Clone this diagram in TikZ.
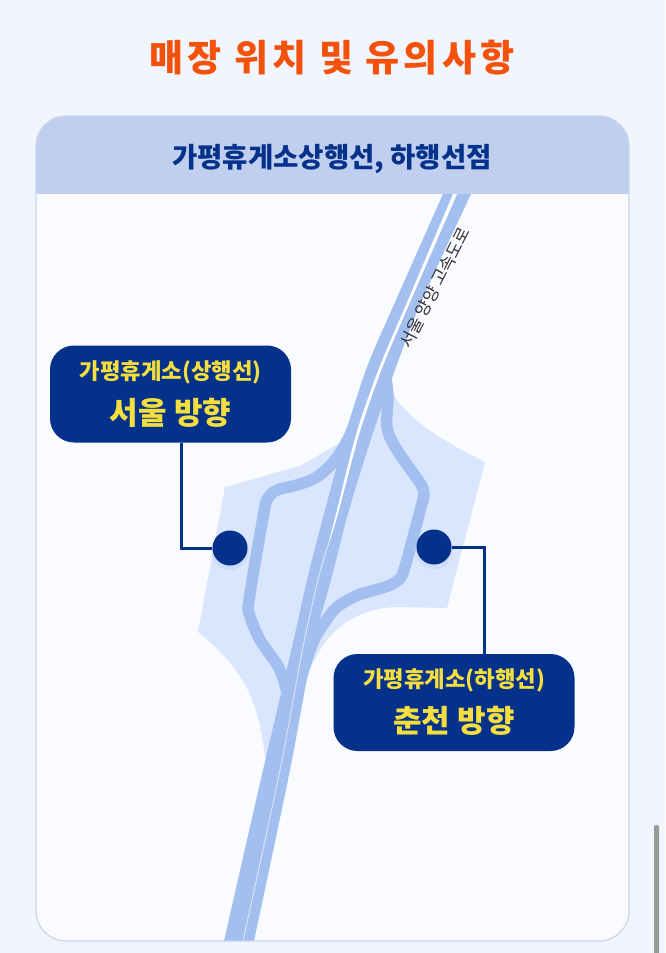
\documentclass[tikz,border=0pt]{standalone}
\usepackage{fontspec}
\setmainfont{Noto Sans CJK KR}
\usepackage{tikz}
\definecolor{pagebg}{HTML}{F1F5FE}
\definecolor{cardbg}{HTML}{FAFBFF}
\definecolor{headbg}{HTML}{C0CFF0}
\definecolor{cardline}{HTML}{C8D5F1}
\definecolor{roadblue}{HTML}{A3BFF0}
\definecolor{areablue}{HTML}{DAE6FD}
\definecolor{navy}{HTML}{04318A}
\definecolor{signyellow}{HTML}{F6DE3F}
\definecolor{titleorange}{HTML}{F4510B}
\tikzset{
    signbox/.style={fill=navy, rounded corners=24pt, minimum width=241pt, minimum height=97pt, inner sep=0pt, align=center, text=signyellow},
    spot/.style={circle, fill=navy, minimum size=35pt, inner sep=0pt},
    wire/.style={navy, line width=3pt},
    ramp/.style={roadblue, line width=11.5pt, line join=round}
}
\newcommand{\smalltxt}[1]{{\fontsize{22.3}{24}\selectfont\bfseries #1}}
\newcommand{\bigtxt}[1]{{\fontsize{31}{34}\selectfont\bfseries #1}}

\begin{document}
\begin{tikzpicture}[x=1pt, y=-1pt]
    \useasboundingbox(0, 0)rectangle(665, 953);
    \fill[pagebg](0, 0)rectangle(665, 953);
    \node(title)at(332, 58){\fontsize{37}{42}\selectfont\bfseries\addfontfeature{LetterSpace=11}\textcolor{titleorange}{매장 위치 및 유의사항}};
    % card
    \fill[cardbg, rounded corners=30pt](36, 116)rectangle(629, 941);
    \begin{scope}
        \clip[rounded corners=30pt](36, 116)rectangle(629, 941);
        % rest area
        \fill[areablue](225, 487)--(300, 466)--(345, 440)--(393, 393)
            .. controls(405, 417) and (440, 440) .. (485, 462)--(447, 608)--(395, 607)
            .. controls(360, 609) and (330, 625) .. (312, 665)--(265, 757)
            .. controls(258, 700) and (245, 670) .. (198, 632)--cycle;
        % main road
        \fill[roadblue]plot[smooth, tension=.5]coordinates{(443, 194)(396, 300)(367, 367)(346, 433)(325, 510)(307, 580)(292, 647)(263, 770)(224, 941)}
            --plot[smooth, tension=.5]coordinates{(254, 941)(290, 770)(313, 647)(331, 580)(349, 510)(373, 433)(396, 367)(422, 300)(471, 194)}--cycle;
        % ramps
        \draw[ramp]plot[smooth, tension=.5]coordinates{(385, 372)(388, 397)(387, 428)(397, 450)(420, 483)(424, 494)(421, 507)(404, 570)(397, 581)(385, 587)(358, 595)(337, 607)(325, 622)(314, 640)(305, 665)(298, 690)};
        \draw[ramp]plot[smooth, tension=.5]coordinates{(362, 400)(350, 435)(335, 460)(317, 477)(297, 485)(277, 490)(268, 498)(264, 512)(249, 600)(250, 616)(260, 640)(279, 668)(287, 695)(283, 725)};
        % white gap
        \fill[white]plot[smooth, tension=.5]coordinates{(453, 194)(408, 300)(379.5, 367)(356.5, 433)(337, 510)(328, 545)}
            --plot[smooth, tension=.5]coordinates{(328.5, 545)(339, 510)(359.5, 433)(382.5, 367)(411, 300)(457, 194)}--cycle;
        \draw[areablue, line width=.9pt]plot[smooth, tension=.5]coordinates{(328, 545)(318, 580)(303, 647)(280, 770)(243, 941)};
        \fill[headbg](36, 116)rectangle(629, 194);
    \end{scope}
    \draw[cardline, line width=1.2pt, rounded corners=30pt](36, 116)rectangle(629, 941);
    \node(head)at(332, 159){\fontsize{27.5}{30}\selectfont\bfseries\textcolor{navy}{가평휴게소상행선, 하행선점}};
    \node[rotate=63, text=black!80](roadname)at(434.5, 287.5){\fontsize{17}{20}\selectfont 서울 양양 고속도로};
    % signs and spots
    \node[signbox](boxa)at(170.5, 394){\smalltxt{가평휴게소(상행선)}\\[13pt]\bigtxt{서울 방향}};
    \node[signbox](boxb)at(454, 702.5){\smalltxt{가평휴게소(하행선)}\\[13pt]\bigtxt{춘천 방향}};
    \fill[roadblue, opacity=.25](230, 551)circle(19);
    \fill[roadblue, opacity=.25](434, 550)circle(19);
    \node[spot](dota)at(230, 548){};
    \node[spot](dotb)at(434, 547){};
    \coordinate(benda)at(181, 548);
    \coordinate(bendb)at(484, 547);
    \draw[wire](boxa.south -| benda)--(benda)--(dota);
    \draw[wire](dotb)--(bendb)--(boxb.north -| bendb);
    % scroll bar
    \fill[black!40, rounded corners=2pt](654, 825)rectangle(659, 960);
\end{tikzpicture}
\end{document}
